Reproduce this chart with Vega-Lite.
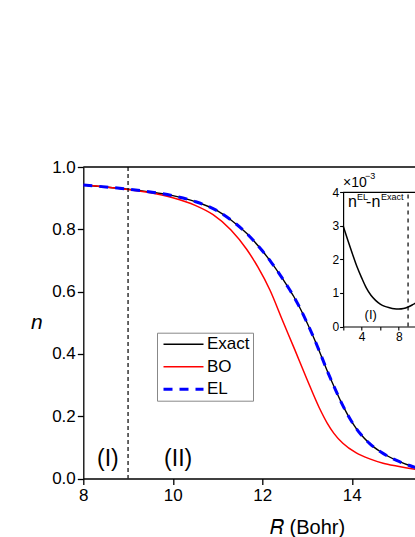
{
  "$schema": "https://vega.github.io/schema/vega-lite/v6.json",
  "autosize": "none",
  "width": 331.7,
  "height": 311.5,
  "padding": {"left": 83.3, "top": 167, "right": 0, "bottom": 58.5},
  "background": "white",
  "config": {
    "font": "Liberation Sans",
    "view": {"stroke": null},
    "axis": {"domainColor": "black", "tickColor": "black", "labelColor": "black", "titleColor": "black", "domainWidth": 1.3, "tickWidth": 1.3, "grid": false, "labelFont": "Liberation Sans", "titleFont": "Liberation Sans"},
    "text": {"font": "Liberation Sans", "color": "black"}
  },
  "datasets": {
    "main": [
      {"R": 8.0, "n": 0.942, "series": "Exact"},
      {"R": 8.5, "n": 0.936, "series": "Exact"},
      {"R": 9.0, "n": 0.929, "series": "Exact"},
      {"R": 9.5, "n": 0.920, "series": "Exact"},
      {"R": 10.0, "n": 0.908, "series": "Exact"},
      {"R": 10.5, "n": 0.889, "series": "Exact"},
      {"R": 11.0, "n": 0.859, "series": "Exact"},
      {"R": 11.3, "n": 0.830, "series": "Exact"},
      {"R": 11.65, "n": 0.787, "series": "Exact"},
      {"R": 12.0, "n": 0.731, "series": "Exact"},
      {"R": 12.2, "n": 0.694, "series": "Exact"},
      {"R": 12.4, "n": 0.653, "series": "Exact"},
      {"R": 12.55, "n": 0.620, "series": "Exact"},
      {"R": 12.7, "n": 0.585, "series": "Exact"},
      {"R": 12.85, "n": 0.545, "series": "Exact"},
      {"R": 13.0, "n": 0.500, "series": "Exact"},
      {"R": 13.15, "n": 0.452, "series": "Exact"},
      {"R": 13.3, "n": 0.400, "series": "Exact"},
      {"R": 13.45, "n": 0.346, "series": "Exact"},
      {"R": 13.6, "n": 0.296, "series": "Exact"},
      {"R": 13.8, "n": 0.234, "series": "Exact"},
      {"R": 14.0, "n": 0.182, "series": "Exact"},
      {"R": 14.2, "n": 0.142, "series": "Exact"},
      {"R": 14.4, "n": 0.112, "series": "Exact"},
      {"R": 14.65, "n": 0.085, "series": "Exact"},
      {"R": 15.0, "n": 0.058, "series": "Exact"},
      {"R": 15.41, "n": 0.036, "series": "Exact"},
      {"R": 16.0, "n": 0.018, "series": "Exact"},
      {"R": 17.0, "n": 0.006, "series": "Exact"},
      {"R": 18.0, "n": 0.002, "series": "Exact"},
      {"R": 8.0, "n": 0.942, "series": "BO"},
      {"R": 8.5, "n": 0.936, "series": "BO"},
      {"R": 9.0, "n": 0.928, "series": "BO"},
      {"R": 9.5, "n": 0.917, "series": "BO"},
      {"R": 10.0, "n": 0.901, "series": "BO"},
      {"R": 10.5, "n": 0.877, "series": "BO"},
      {"R": 10.9, "n": 0.847, "series": "BO"},
      {"R": 11.3, "n": 0.798, "series": "BO"},
      {"R": 11.65, "n": 0.736, "series": "BO"},
      {"R": 11.9, "n": 0.679, "series": "BO"},
      {"R": 12.17, "n": 0.605, "series": "BO"},
      {"R": 12.45, "n": 0.508, "series": "BO"},
      {"R": 12.73, "n": 0.412, "series": "BO"},
      {"R": 13.0, "n": 0.318, "series": "BO"},
      {"R": 13.27, "n": 0.228, "series": "BO"},
      {"R": 13.45, "n": 0.178, "series": "BO"},
      {"R": 13.6, "n": 0.145, "series": "BO"},
      {"R": 13.8, "n": 0.113, "series": "BO"},
      {"R": 14.1, "n": 0.082, "series": "BO"},
      {"R": 14.4, "n": 0.063, "series": "BO"},
      {"R": 14.7, "n": 0.049, "series": "BO"},
      {"R": 15.0, "n": 0.040, "series": "BO"},
      {"R": 15.41, "n": 0.030, "series": "BO"},
      {"R": 16.0, "n": 0.020, "series": "BO"},
      {"R": 17.0, "n": 0.010, "series": "BO"},
      {"R": 18.0, "n": 0.005, "series": "BO"},
      {"R": 8.0, "n": 0.942, "series": "EL"},
      {"R": 8.5, "n": 0.936, "series": "EL"},
      {"R": 9.0, "n": 0.929, "series": "EL"},
      {"R": 9.5, "n": 0.920, "series": "EL"},
      {"R": 10.0, "n": 0.908, "series": "EL"},
      {"R": 10.5, "n": 0.889, "series": "EL"},
      {"R": 11.0, "n": 0.859, "series": "EL"},
      {"R": 11.3, "n": 0.830, "series": "EL"},
      {"R": 11.65, "n": 0.787, "series": "EL"},
      {"R": 12.0, "n": 0.731, "series": "EL"},
      {"R": 12.2, "n": 0.694, "series": "EL"},
      {"R": 12.4, "n": 0.653, "series": "EL"},
      {"R": 12.55, "n": 0.620, "series": "EL"},
      {"R": 12.7, "n": 0.585, "series": "EL"},
      {"R": 12.85, "n": 0.545, "series": "EL"},
      {"R": 13.0, "n": 0.500, "series": "EL"},
      {"R": 13.15, "n": 0.452, "series": "EL"},
      {"R": 13.3, "n": 0.400, "series": "EL"},
      {"R": 13.45, "n": 0.346, "series": "EL"},
      {"R": 13.6, "n": 0.296, "series": "EL"},
      {"R": 13.8, "n": 0.234, "series": "EL"},
      {"R": 14.0, "n": 0.182, "series": "EL"},
      {"R": 14.2, "n": 0.142, "series": "EL"},
      {"R": 14.4, "n": 0.112, "series": "EL"},
      {"R": 14.65, "n": 0.085, "series": "EL"},
      {"R": 15.0, "n": 0.058, "series": "EL"},
      {"R": 15.41, "n": 0.036, "series": "EL"},
      {"R": 16.0, "n": 0.018, "series": "EL"},
      {"R": 17.0, "n": 0.006, "series": "EL"},
      {"R": 18.0, "n": 0.002, "series": "EL"}
    ],
    "inset": [
      {"x": 2.0, "d": 3.0},
      {"x": 2.5, "d": 2.58},
      {"x": 3.0, "d": 2.17},
      {"x": 3.5, "d": 1.78},
      {"x": 4.0, "d": 1.45},
      {"x": 4.5, "d": 1.15},
      {"x": 5.0, "d": 0.93},
      {"x": 5.5, "d": 0.78},
      {"x": 6.0, "d": 0.67},
      {"x": 6.5, "d": 0.60},
      {"x": 7.0, "d": 0.56},
      {"x": 7.5, "d": 0.53},
      {"x": 8.0, "d": 0.52},
      {"x": 8.5, "d": 0.535},
      {"x": 9.0, "d": 0.58},
      {"x": 9.5, "d": 0.65},
      {"x": 10.0, "d": 0.73},
      {"x": 11.0, "d": 0.90},
      {"x": 12.0, "d": 1.10}
    ],
    "one": [{}]
  },
  "layer": [
    {
      "layer": [
        {
          "data": {"name": "main"},
          "transform": [{"filter": "datum.series === 'Exact'"}],
          "mark": {"type": "line", "interpolate": "monotone", "strokeWidth": 1.4},
          "encoding": {
            "x": {
              "field": "R", "type": "quantitative",
              "scale": {"domain": [8, 18], "range": [0, 447.5], "nice": false, "zero": false},
              "axis": {
                "values": [8, 9, 10, 11, 12, 13, 14, 15, 16, 17, 18],
                "labelExpr": "datum.value % 2 === 0 && datum.value <= 14 ? datum.label : ''",
                "tickSize": {"condition": {"test": "datum.value % 2 === 0", "value": 6}, "value": 3.5},
                "labelFontSize": 17, "labelPadding": 3, "labelFlush": false, "labelOverlap": false,
                "title": "𝑅 (Bohr)", "titleFontSize": 20, "titleFontWeight": "normal",
                "titleY": 55, "titleBaseline": "alphabetic"
              }
            },
            "y": {
              "field": "n", "type": "quantitative",
              "scale": {"domain": [0, 1], "nice": false},
              "axis": {
                "values": [0, 0.1, 0.2, 0.3, 0.4, 0.5, 0.6, 0.7, 0.8, 0.9, 1],
                "labelExpr": "round(datum.value*10) % 2 === 0 ? format(datum.value, '.1f') : ''",
                "tickSize": {"condition": {"test": "round(datum.value*10) % 2 === 0", "value": 6}, "value": 3.5},
                "labelFontSize": 17, "labelPadding": 2, "labelOverlap": false, "labelFlush": false,
                "title": "n", "titleFontStyle": "italic", "titleFontSize": 21, "titleFontWeight": "normal",
                "titleAngle": 0, "titleX": -47, "titleY": 155.7, "titleAlign": "center", "titleBaseline": "middle"
              }
            },
            "color": {
              "field": "series", "type": "nominal",
              "scale": {"domain": ["Exact", "BO", "EL"], "range": ["#000000", "#ff0000", "#0000ff"]},
              "legend": {
                "title": null, "orient": "none", "legendX": 73.7, "legendY": 165.7,
                "labelFontSize": 17, "labelColor": "black", "symbolType": "M-1,0L7,0", "symbolSize": 100,
                "labelOffset": 30, "padding": 3, "rowPadding": 4.5,
                "strokeColor": "#888888", "fillColor": "white",
                "encode": {"symbols": {"update": {
                  "strokeDash": {"signal": "datum.value === 'EL' ? [9, 7] : [1, 0]"},
                  "strokeWidth": {"signal": "datum.value === 'EL' ? 3 : 1.5"}
                }}}
              }
            }
          }
        },
        {
          "data": {"name": "main"},
          "transform": [{"filter": "datum.series === 'BO'"}],
          "mark": {"type": "line", "interpolate": "monotone", "strokeWidth": 1.5},
          "encoding": {
            "x": {"field": "R", "type": "quantitative"},
            "y": {"field": "n", "type": "quantitative"},
            "color": {"field": "series", "type": "nominal"}
          }
        },
        {
          "data": {"name": "main"},
          "transform": [{"filter": "datum.series === 'EL'"}],
          "mark": {"type": "line", "interpolate": "monotone", "strokeWidth": 3, "strokeDash": [9, 7]},
          "encoding": {
            "x": {"field": "R", "type": "quantitative"},
            "y": {"field": "n", "type": "quantitative"},
            "color": {"field": "series", "type": "nominal"}
          }
        },
        {
          "data": {"name": "one"},
          "mark": {"type": "rule", "color": "black", "strokeWidth": 1.3},
          "encoding": {"y": {"datum": 1}}
        },
        {
          "data": {"name": "one"},
          "mark": {"type": "rule", "color": "black", "strokeWidth": 1.2, "strokeDash": [4, 3]},
          "encoding": {"x": {"datum": 9}}
        },
        {
          "data": {"name": "one"},
          "mark": {"type": "text", "fontSize": 23, "align": "center", "baseline": "middle"},
          "encoding": {"x": {"datum": 8.55}, "y": {"datum": 0.063}, "text": {"value": "(I)"}}
        },
        {
          "data": {"name": "one"},
          "mark": {"type": "text", "fontSize": 23, "align": "center", "baseline": "middle"},
          "encoding": {"x": {"datum": 10.12}, "y": {"datum": 0.063}, "text": {"value": "(II)"}}
        }
      ]
    },
    {
      "layer": [
        {
          "data": {"name": "inset"},
          "mark": {"type": "line", "color": "black", "strokeWidth": 1.5, "interpolate": "monotone"},
          "encoding": {
            "x": {
              "field": "x", "type": "quantitative",
              "scale": {"domain": [2, 12], "range": [259.8, 352.6], "nice": false, "zero": false},
              "axis": {
                "orient": "bottom", "offset": -152,
                "values": [2, 3, 4, 5, 6, 7, 8, 9, 10, 11, 12],
                "labelExpr": "datum.value % 4 === 0 && datum.value <= 8 ? format(datum.value, 'd') : ''",
                "tickSize": {"condition": {"test": "datum.value % 2 === 0", "value": 3.5}, "value": 0},
                "labelFontSize": 12, "labelPadding": 1, "labelFlush": false, "labelOverlap": false,
                "domainWidth": 1.2, "tickWidth": 1.1, "title": null
              }
            },
            "y": {
              "field": "d", "type": "quantitative",
              "scale": {"domain": [0, 4], "range": [159.5, 25.3], "nice": false, "zero": false},
              "axis": {
                "orient": "left", "offset": -259.8,
                "values": [0, 0.5, 1, 1.5, 2, 2.5, 3, 3.5, 4],
                "labelExpr": "datum.value % 1 === 0 ? format(datum.value, 'd') : ''",
                "tickSize": {"condition": {"test": "datum.value % 1 === 0", "value": 3.5}, "value": 2},
                "labelFontSize": 12, "labelPadding": 1, "labelFlush": false, "labelOverlap": false,
                "domainWidth": 1.2, "tickWidth": 1.1, "title": null
              }
            }
          }
        },
        {
          "data": {"name": "one"},
          "mark": {"type": "rule", "color": "black", "strokeWidth": 1.2},
          "encoding": {"x": {"datum": 2}, "x2": {"datum": 12}, "y": {"datum": 4}}
        },
        {
          "data": {"name": "one"},
          "mark": {"type": "rule", "color": "black", "strokeWidth": 1.2, "strokeDash": [4, 4]},
          "encoding": {"x": {"datum": 9}, "y": {"datum": 0}, "y2": {"datum": 4}}
        },
        {
          "data": {"name": "one"},
          "mark": {"type": "text", "fontSize": 14, "align": "left", "baseline": "alphabetic", "dy": -5},
          "encoding": {"x": {"datum": 2}, "y": {"datum": 4}, "text": {"value": "×10"}}
        },
        {
          "data": {"name": "one"},
          "mark": {"type": "text", "fontSize": 9, "align": "left", "baseline": "alphabetic", "dx": 22, "dy": -13},
          "encoding": {"x": {"datum": 2}, "y": {"datum": 4}, "text": {"value": "−3"}}
        },
        {
          "data": {"name": "one"},
          "mark": {"type": "text", "fontSize": 16, "align": "left", "baseline": "alphabetic", "dx": 5, "dy": 14.4},
          "encoding": {"x": {"datum": 2}, "y": {"datum": 4}, "text": {"value": "n"}}
        },
        {
          "data": {"name": "one"},
          "mark": {"type": "text", "fontSize": 9, "align": "left", "baseline": "alphabetic", "dx": 14, "dy": 8},
          "encoding": {"x": {"datum": 2}, "y": {"datum": 4}, "text": {"value": "EL"}}
        },
        {
          "data": {"name": "one"},
          "mark": {"type": "text", "fontSize": 16, "align": "left", "baseline": "alphabetic", "dx": 23, "dy": 14.4},
          "encoding": {"x": {"datum": 2}, "y": {"datum": 4}, "text": {"value": "-n"}}
        },
        {
          "data": {"name": "one"},
          "mark": {"type": "text", "fontSize": 9, "align": "left", "baseline": "alphabetic", "dx": 38, "dy": 8},
          "encoding": {"x": {"datum": 2}, "y": {"datum": 4}, "text": {"value": "Exact"}}
        },
        {
          "data": {"name": "one"},
          "mark": {"type": "text", "fontSize": 13, "align": "center", "baseline": "middle"},
          "encoding": {"x": {"datum": 4.98}, "y": {"datum": 0.34}, "text": {"value": "(I)"}}
        }
      ]
    }
  ],
  "resolve": {"scale": {"x": "independent", "y": "independent"}}
}
